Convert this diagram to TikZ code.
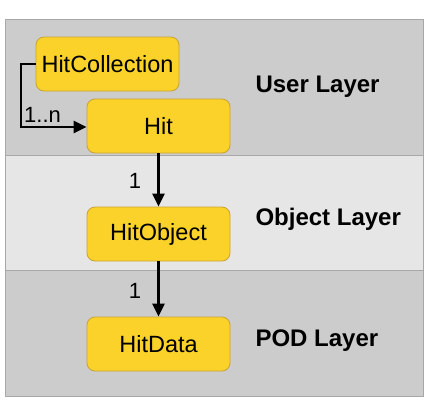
\documentclass[tikz,border=0pt]{standalone}
\usepackage{fontspec}
\setmainfont{Liberation Sans}
\usetikzlibrary{arrows.meta}
\definecolor{boxfill}{HTML}{FAD22A}
\definecolor{boxline}{HTML}{C9A235}
\definecolor{banddark}{HTML}{CCCCCC}
\definecolor{bandlight}{HTML}{E6E6E6}
\definecolor{frameline}{HTML}{A8A8A8}
\begin{document}
\begin{tikzpicture}[x=1pt,y=-1pt,
  classbox/.style={draw=boxline, fill=boxfill, rounded corners=8pt, line width=0.8pt,
    minimum width=143pt, minimum height=54pt, inner sep=0pt, font=\fontsize{23.5}{27}\selectfont},
  layerlabel/.style={anchor=west, font=\fontsize{24}{28}\selectfont\bfseries},
  mult/.style={font=\fontsize{22}{26}\selectfont},
  conn/.style={line width=2.6pt, -{Triangle[length=13pt,width=12pt]}}]
\useasboundingbox (0,0) rectangle (432,400);
\fill[white] (0,0) rectangle (432,400);
% bands
\fill[banddark] (5,19) rectangle (423,155);
\fill[bandlight] (5,155) rectangle (423,270);
\fill[banddark] (5,270) rectangle (423,396);
\draw[frameline, line width=0.8pt] (5,155) -- (423,155);
\draw[frameline, line width=0.8pt] (5,270) -- (423,270);
\draw[frameline, line width=0.8pt] (5,19) rectangle (423,396);
% nodes
\node[classbox] (hc) at (107.5,64) {HitCollection};
\node[classbox] (hit) at (158.5,126) {Hit};
\node[classbox] (ho) at (158.5,234) {HitObject};
\node[classbox] (hd) at (158.5,344) {HitData};
% labels
\node[layerlabel] (ul) at (252,87) {User Layer};
\node[layerlabel] (ol) at (252,219) {Object Layer};
\node[layerlabel] (pl) at (252,341) {POD Layer};
% connectors
\coordinate (c1) at (21,64);
\coordinate (c2) at (21,127);
\draw[conn] (hc.west) -- (c1) -- (c2) -- (hit.west |- c2);
\draw[conn] (hit.south) -- (ho.north);
\draw[conn] (ho.south) -- (hd.north);
\node[mult, anchor=south west, inner sep=1pt] (m0) at (23,124) {1..n};
\node[mult] (m1) at (135,181) {1};
\node[mult] (m2) at (135,291) {1};
\end{tikzpicture}
\end{document}
